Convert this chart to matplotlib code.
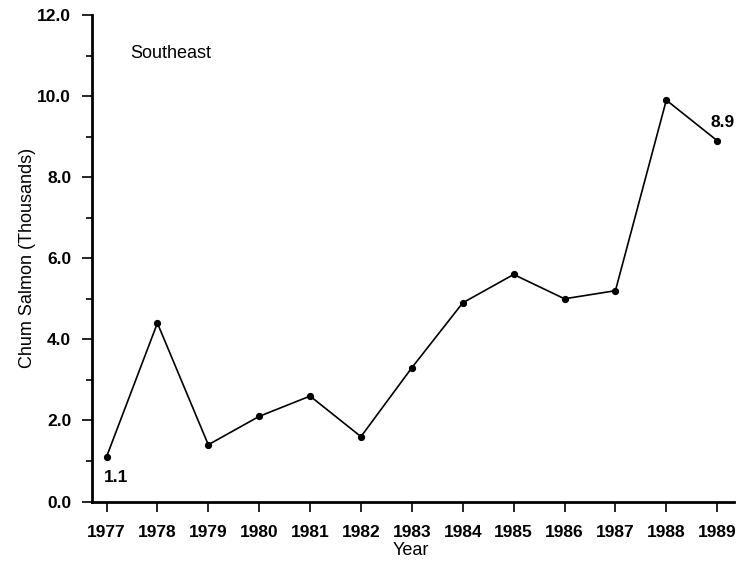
import matplotlib
matplotlib.use("Agg")
import matplotlib.pyplot as plt
from matplotlib.ticker import MultipleLocator

years = [1977, 1978, 1979, 1980, 1981, 1982, 1983, 1984, 1985, 1986, 1987, 1988, 1989]
catch = [1.1, 4.4, 1.4, 2.1, 2.6, 1.6, 3.3, 4.9, 5.6, 5.0, 5.2, 9.9, 8.9]
y_ticks = [0.0, 2.0, 4.0, 6.0, 8.0, 10.0, 12.0]
region = "Southeast"
first_label = "1.1"
last_label = "8.9"

plt.rcParams['font.family'] = ['Liberation Sans', 'DejaVu Sans']

fig = plt.figure(figsize=(7.45, 5.62), dpi=100)
ax = fig.add_axes([92/745, 1-501.5/562, (734-92)/745, (501.5-15)/562])

ax.plot(years, catch, color='black', lw=1.2, marker='o', ms=4.2, mfc='black', mec='black')

ax.set_xlim(1976.715, 1989.33)
ax.set_ylim(0, 12)
ax.set_xticks(years)
ax.set_xticklabels([str(y) for y in years], fontsize=12.5, fontweight='bold')
ax.set_yticks(y_ticks)
ax.set_yticklabels([f"{v:.1f}" for v in y_ticks], fontsize=12.5, fontweight='bold')
ax.yaxis.set_minor_locator(MultipleLocator(1.0))

for s in ['top', 'right']:
    ax.spines[s].set_visible(False)
for s in ['left', 'bottom']:
    ax.spines[s].set_linewidth(2)
ax.tick_params(axis='x', which='major', direction='out', length=7, width=1.2, pad=10)
ax.tick_params(axis='y', which='major', direction='out', length=7, width=1.2, pad=8)
ax.tick_params(axis='y', which='minor', direction='out', length=4, width=1.2)

ax.set_ylabel("Chum Salmon (Thousands)", fontsize=13, va='center')
ax.yaxis.set_label_coords(-0.1, 0.5)
ax.set_xlabel("Year", fontsize=13, va='center')
ax.xaxis.set_label_coords(0.497, -0.0997)

ax.text(0.059, 0.92, region, transform=ax.transAxes, fontsize=13, va='center', ha='left')

ax.annotate(first_label, xy=(years[0], catch[0]), xytext=(-2, -15), textcoords='offset points',
            ha='left', va='center', fontsize=12.5, fontweight='bold')
ax.annotate(last_label, xy=(years[-1], catch[-1]), xytext=(4, 13), textcoords='offset points',
            ha='center', va='center', fontsize=12.5, fontweight='bold')

fig.savefig("out.png", dpi=100)
